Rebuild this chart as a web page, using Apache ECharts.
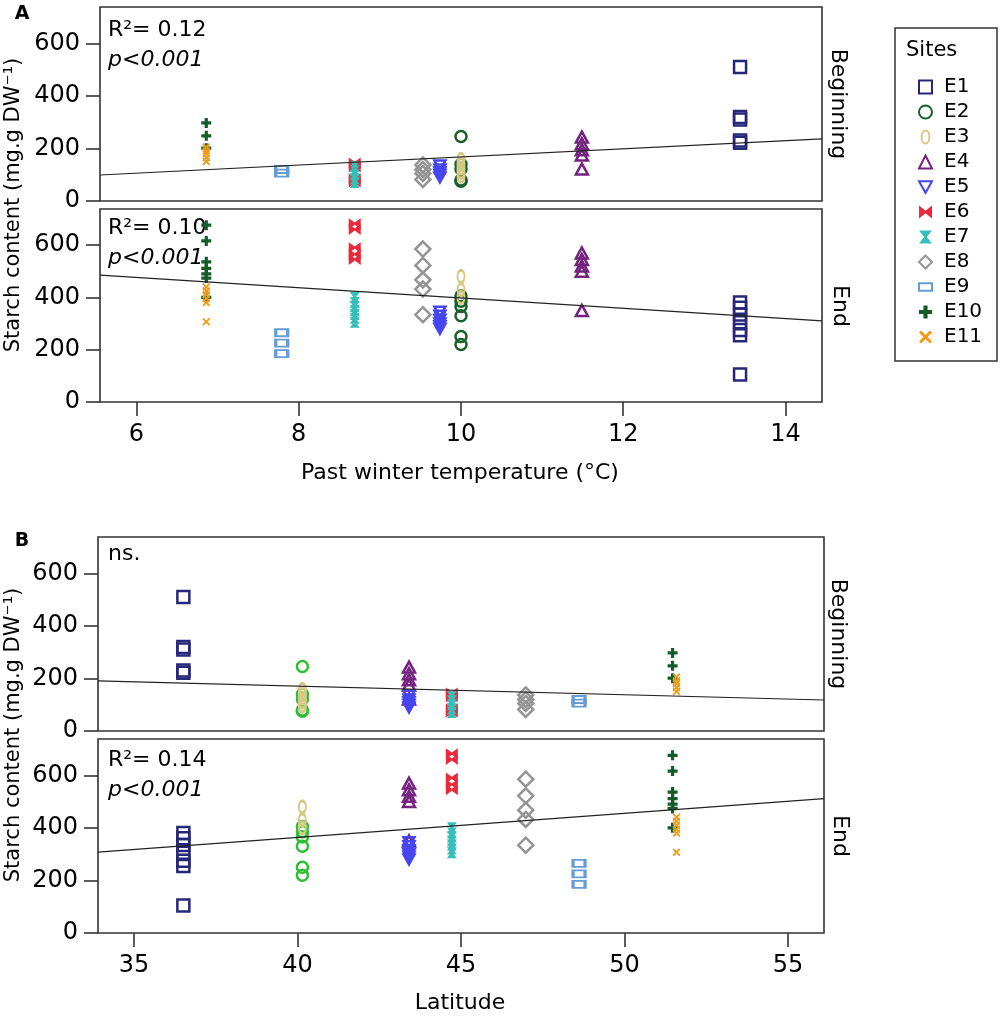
<!DOCTYPE html>
<html>
<head>
<meta charset="utf-8">
<title>Starch content by site</title>
<script src="https://cdn.jsdelivr.net/npm/echarts@6.0.0/dist/echarts.min.js"></script>
<style>
  html, body { margin: 0; padding: 0; background: #fff; }
  #chart { width: 1000px; height: 1016px; }
</style>
</head>
<body>
<div id="chart"></div>
<script>
// 站点与坐标
const sites = ['E1', 'E2', 'E3', 'E4', 'E5', 'E6', 'E7', 'E8', 'E9', 'E10', 'E11']
const siteTemperature = [13.44, 10.0, 10.0, 11.49, 9.74, 8.69, 8.69, 9.53, 7.79, 6.86, 6.86]
const siteLatitude = [36.51, 40.15, 40.15, 43.41, 43.41, 44.72, 44.72, 46.98, 48.61, 51.47, 51.59]

// 淀粉含量 (mg.g DW-1)
const beginStarch = [
  [510, 320, 310, 230, 222],
  [245, 140, 122, 80, 75],
  [158, 140, 125, 110, 95],
  [243, 218, 195, 175, 122],
  [135, 120, 110, 100, 90],
  [145, 130, 85, 72],
  [130, 115, 100, 85, 70],
  [137, 120, 105, 82],
  [120, 106],
  [297, 248, 201],
  [205, 190, 180, 165, 150]
]
const endStarch = [
  [380, 360, 335, 305, 275, 255, 105],
  [405, 385, 365, 330, 250, 220],
  [480, 430, 400],
  [570, 545, 520, 500, 350],
  [345, 330, 315, 300, 290, 280],
  [682, 660, 590, 565, 545],
  [400, 380, 365, 350, 335, 320, 305],
  [585, 522, 467, 432, 334],
  [265, 225, 185],
  [676, 616, 536, 511, 490, 474, 400],
  [440, 425, 410, 395, 380, 307]
]

// 拟合线两端的值 (轴两端)
const fitTempBegin = [99, 236]
const fitTempEnd = [485, 310]
const fitLatBegin = [191, 118]
const fitLatEnd = [308, 511]

// 轴
const tempRange = [5.55, 14.45]
const latRange = [33.9, 56.1]
const tempTicks = [6, 8, 10, 12, 14]
const latTicks = [35, 40, 45, 50, 55]
const starchTicks = [0, 200, 400, 600]
const starchMax = 738

// ==================== 样式 ====================
const FONT = 'DejaVu Sans'
const FRAME = '#333'

const ellipsePath = 'path://M3,0C4.7,0 6,2.2 6,5C6,7.8 4.7,10 3,10C1.3,10 0,7.8 0,5C0,2.2 1.3,0 3,0Z'
const downTrianglePath = 'path://M0,0L10,0L5,9Z'
const bowtiePath = 'path://M0,0L5,4L10,0L10,10L5,6L0,10Z'
const hourglassPath = 'path://M0,0L10,0L6,5L10,10L0,10L4,5Z'
const barPath = 'path://M0,0H12V7H0Z'
const plusPath = 'path://M3.4,0H6.6V3.4H10V6.6H6.6V10H3.4V6.6H0V3.4H3.4Z'
const crossPath = 'path://M1.6,0L5,3.4L8.4,0L10,1.6L6.6,5L10,8.4L8.4,10L5,6.6L1.6,10L0,8.4L3.4,5L0,1.6Z'

const siteSymbols = ['rect', 'circle', ellipsePath, 'triangle', downTrianglePath, bowtiePath, hourglassPath, 'diamond', barPath, plusPath, crossPath]
const siteSymbolSizes = [12, 11, [7, 12], [12, 11], [11, 10], [12, 11], [10, 11], [15, 15], [12, 7], 10, 8]
const siteHollow = [true, true, true, true, true, false, false, true, true, false, false]
const siteColors = ['#27277a', '#17602a', '#d4ca85', '#74237f', '#4646f0', '#ea2a3a', '#36bfba', '#949494', '#649cd6', '#145c2c', '#f59a15']
const siteColorsB = ['#27277a', '#2fbf36', '#d4ca85', '#74237f', '#4646f0', '#ea2a3a', '#36bfba', '#949494', '#649cd6', '#145c2c', '#f59a15']

const panels = [
  { grid: { left: 100, top: 7, width: 722, height: 194 }, x: siteTemperature, values: beginStarch, fit: fitTempBegin, range: tempRange, ticks: tempTicks, colors: siteColors, bottom: false },
  { grid: { left: 100, top: 209, width: 722, height: 193 }, x: siteTemperature, values: endStarch, fit: fitTempEnd, range: tempRange, ticks: tempTicks, colors: siteColors, bottom: true },
  { grid: { left: 98, top: 537, width: 726, height: 194 }, x: siteLatitude, values: beginStarch, fit: fitLatBegin, range: latRange, ticks: latTicks, colors: siteColorsB, bottom: false },
  { grid: { left: 98, top: 739, width: 726, height: 194 }, x: siteLatitude, values: endStarch, fit: fitLatEnd, range: latRange, ticks: latTicks, colors: siteColorsB, bottom: true }
]

const grids = panels.map(p => Object.assign({ show: true, borderColor: FRAME, borderWidth: 1.6, backgroundColor: '#fff' }, p.grid))

const xAxes = panels.map((p, i) => ({
  type: 'value',
  gridIndex: i,
  min: p.range[0],
  max: p.range[1],
  axisLine: { show: false },
  splitLine: { show: false },
  axisTick: { show: p.bottom, length: 14, customValues: p.ticks, lineStyle: { color: FRAME, width: 1.6 } },
  axisLabel: { show: p.bottom, customValues: p.ticks, margin: 21, fontFamily: FONT, fontSize: 24, color: '#000' }
}))

const yAxes = panels.map((p, i) => ({
  type: 'value',
  gridIndex: i,
  min: 0,
  max: starchMax,
  axisLine: { show: false },
  splitLine: { show: false },
  axisTick: { show: true, length: 14, customValues: starchTicks, lineStyle: { color: FRAME, width: 1.6 } },
  axisLabel: { customValues: starchTicks, margin: 20, fontFamily: FONT, fontSize: 24, color: '#000' }
}))

const series = []
panels.forEach((p, pi) => {
  sites.forEach((name, si) => {
    const color = p.colors[si]
    series.push({
      type: 'scatter',
      name,
      xAxisIndex: pi,
      yAxisIndex: pi,
      symbol: siteSymbols[si],
      symbolSize: siteSymbolSizes[si],
      itemStyle: siteHollow[si]
        ? { color: 'rgba(255,255,255,0)', borderColor: color, borderWidth: 2.5, opacity: 1 }
        : { color, opacity: 1 },
      data: p.values[si].map(v => [p.x[si], v])
    })
  })
})
panels.forEach((p, pi) => {
  series.push({
    type: 'line',
    name: 'fit' + pi,
    xAxisIndex: pi,
    yAxisIndex: pi,
    symbol: 'none',
    silent: true,
    z: 5,
    lineStyle: { color: '#222', width: 1.2 },
    data: [[p.range[0], p.fit[0]], [p.range[1], p.fit[1]]]
  })
})

const txt = (x, y, text, extra) => ({
  type: 'text', x, y,
  style: Object.assign({ text, fontFamily: FONT, fontSize: 22, fill: '#000', textAlign: 'left', textVerticalAlign: 'middle' }, extra || {})
})

const graphic = [
  txt(22, 14, 'A', { fontSize: 19, fontWeight: 'bold', textAlign: 'center' }),
  txt(22, 541, 'B', { fontSize: 19, fontWeight: 'bold', textAlign: 'center' }),
  Object.assign(txt(14, 205, 'Starch content (mg.g DW⁻¹)', { fontSize: 21, textAlign: 'center' }), { rotation: Math.PI / 2 }),
  Object.assign(txt(14, 735, 'Starch content (mg.g DW⁻¹)', { fontSize: 21, textAlign: 'center' }), { rotation: Math.PI / 2 }),
  txt(460, 473, 'Past winter temperature (°C)', { textAlign: 'center' }),
  txt(460, 1003, 'Latitude', { textAlign: 'center' }),
  Object.assign(txt(838, 104, 'Beginning', { textAlign: 'center' }), { rotation: -Math.PI / 2 }),
  Object.assign(txt(840, 306, 'End', { textAlign: 'center' }), { rotation: -Math.PI / 2 }),
  Object.assign(txt(838, 634, 'Beginning', { textAlign: 'center' }), { rotation: -Math.PI / 2 }),
  Object.assign(txt(840, 836, 'End', { textAlign: 'center' }), { rotation: -Math.PI / 2 }),
  txt(108, 30, 'R²= 0.12'),
  txt(108, 60, 'p<0.001', { fontStyle: 'italic' }),
  txt(108, 228, 'R²= 0.10'),
  txt(108, 258, 'p<0.001', { fontStyle: 'italic' }),
  txt(108, 554, 'ns.'),
  txt(108, 760, 'R²= 0.14'),
  txt(108, 790, 'p<0.001', { fontStyle: 'italic' }),
  // 图例边框
  { type: 'rect', shape: { x: 895, y: 28, width: 102, height: 333 }, style: { fill: 'none', stroke: FRAME, lineWidth: 1.5 }, z: -1 },
  txt(906, 51, 'Sites', { fontSize: 21 })
]

const chart = echarts.init(document.getElementById('chart'))
chart.setOption({
  animation: false,
  backgroundColor: '#fff',
  grid: grids,
  xAxis: xAxes,
  yAxis: yAxes,
  legend: {
    data: sites,
    orient: 'vertical',
    left: 918,
    top: 77,
    padding: 0,
    itemWidth: 13,
    itemHeight: 13,
    itemGap: 5,
    selectedMode: false,
    textStyle: { fontFamily: FONT, fontSize: 20, lineHeight: 20, color: '#000', padding: [0, 0, 0, 7] }
  },
  graphic,
  series
})
</script>
</body>
</html>
